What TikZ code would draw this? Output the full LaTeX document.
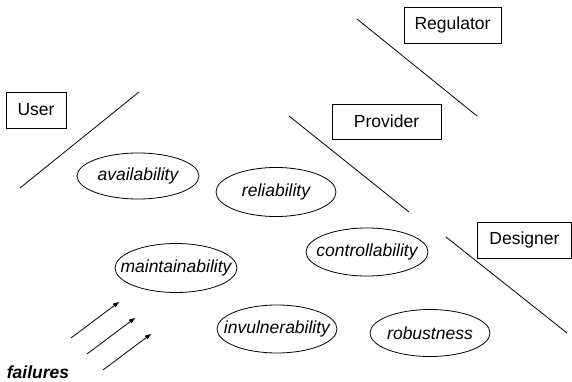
\documentclass[tikz,border=0pt]{standalone}
\usepackage{fontspec}
\setmainfont{Liberation Sans}
\usetikzlibrary{arrows.meta}
\begin{document}
\begin{tikzpicture}[x=1pt,y=-1pt,
  font=\fontsize{17.5}{21}\selectfont,
  role/.style={draw,line width=0.8pt,inner sep=0pt,minimum height=36pt},
  quality/.style={inner sep=0pt,font=\fontsize{17.5}{21}\selectfont\itshape},
  rim/.style={line width=0.8pt},
  divider/.style={line width=0.8pt},
  hit/.style={line width=0.8pt,-{Triangle[length=6pt,width=4.5pt]}}]
\useasboundingbox (0,0) rectangle (572,382);

% stakeholder boxes
\node[role,minimum width=60pt] (user) at (36,110) {User};
\node[role,minimum width=97pt] (regulator) at (452.5,25) {Regulator};
\node[role,minimum width=109pt,minimum height=35pt] (provider) at (386.5,121.5) {Provider};
\node[role,minimum width=94pt] (designer) at (524.5,240) {Designer};

% dividing strokes
\coordinate (u1) at (20,188);  \coordinate (u2) at (139,92);
\coordinate (r1) at (357,19);  \coordinate (r2) at (477,116);
\coordinate (p1) at (289,116); \coordinate (p2) at (409,212);
\coordinate (d1) at (446,237); \coordinate (d2) at (567,333);
\draw[divider] (u1) -- (u2);
\draw[divider] (r1) -- (r2);
\draw[divider] (p1) -- (p2);
\draw[divider] (d1) -- (d2);

% dependability attributes: label, then its outline
\node[quality] (avail) at (138,176) {availability};
\node[quality] (relia) at (276,192) {reliability};
\node[quality] (contr) at (367,252) {controllability};
\node[quality] (maint) at (176,268) {maintainability};
\node[quality] (invul) at (277,329) {invulnerability};
\node[quality] (robus) at (430,333) {robustness};
\draw[rim] (avail.center) ellipse [x radius=61, y radius=23];
\draw[rim] (relia.center) ellipse [x radius=60, y radius=24.5];
\draw[rim] (contr.center) ellipse [x radius=61, y radius=24];
\draw[rim] (maint.center) ellipse [x radius=61, y radius=24.5];
\draw[rim] (invul.center) ellipse [x radius=60, y radius=24];
\draw[rim] (robus.center) ellipse [x radius=60, y radius=23.5];

% incoming failures
\node[font=\fontsize{17.5}{21}\selectfont\bfseries\itshape] (fail) at (38,372) {failures};
\coordinate (a1s) at (71,338);  \coordinate (a1e) at (119,302);
\coordinate (a2s) at (87,354);  \coordinate (a2e) at (135,318);
\coordinate (a3s) at (103,370); \coordinate (a3e) at (151,334);
\draw[hit] (a1s) -- (a1e);
\draw[hit] (a2s) -- (a2e);
\draw[hit] (a3s) -- (a3e);
\end{tikzpicture}
\end{document}
